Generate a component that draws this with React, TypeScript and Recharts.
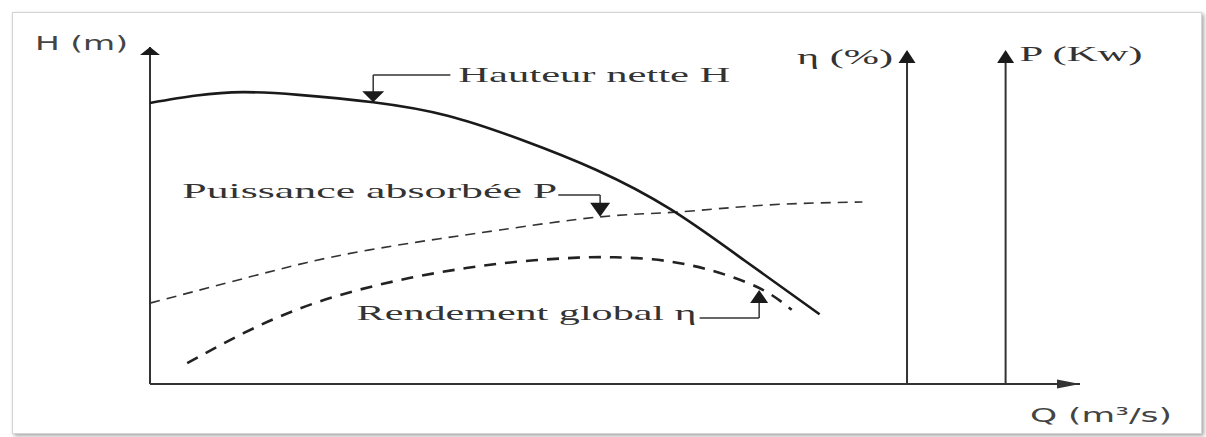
import { LineChart, Line, XAxis, YAxis, ReferenceLine, ReferenceDot } from 'recharts';

// Q values are on a 0..100 scale, curves on a 0..100 scale (no units shown)
const headFlow = [0, 5, 10, 16, 24, 32, 40, 48, 56, 64, 72];
const headValues = [83.4, 85.6, 86.6, 85.8, 83.6, 79.6, 72.4, 63.5, 51.8, 36.5, 20.7];

const powerFlow = [0, 10.75, 19.6, 28.7, 37.6, 48.4, 56.5, 66.3, 76.6];
const powerValues = [24, 31.8, 37.7, 42.1, 45.7, 49.6, 51, 53.1, 54];

const effFlow = [4, 10, 16, 22, 28, 34, 40, 46, 50, 54, 58, 62, 66, 69];
const effValues = [6.2, 15, 22.3, 27.6, 31.5, 34.4, 36.4, 37.5, 37.6, 37, 35.3, 32.3, 27.8, 22];

const axisLabels = ['H (m)', 'Q (m³/s)', 'η (%)', 'P (Kw)'];
const curveLabels = ['Hauteur nette H', 'Puissance absorbée P', 'Rendement global η'];

const toPoints = (xs: number[], ys: number[]) => xs.map((q, i) => ({ q, v: ys[i] }));
const headData = toPoints(headFlow, headValues);
const powerData = toPoints(powerFlow, powerValues);
const effData = toPoints(effFlow, effValues);

const INK = '#1a1a1a';
const SERIF = "'Liberation Serif', 'DejaVu Serif', serif";
const SANS = "'DejaVu Sans', 'Liberation Sans', sans-serif";

const upHead = (w: number, h: number) => (p: any) => (
  <path d={`M${p.cx},${p.cy} l${-w / 2},${h} h${w} z`} fill={INK} />
);
const downHead = (w: number, h: number) => (p: any) => (
  <path d={`M${p.cx},${p.cy} l${-w / 2},${-h} h${w} z`} fill={INK} />
);
const rightHead = (p: any) => (
  <path d={`M${p.cx},${p.cy} l-23,-4.5 v9 z`} fill="#333" />
);

const textShape = (
  text: string, dx: number, dy: number, anchor: 'start' | 'end',
  width: number, family: string, size: number, color: string
) => (p: any) => (
  <text
    x={p.cx + dx}
    y={p.cy + dy}
    textAnchor={anchor}
    textLength={width}
    lengthAdjust="spacingAndGlyphs"
    style={{ fontFamily: family, fontSize: size }}
    fill={color}
  >
    {text}
  </text>
);

export default function App() {
  return (
    <div style={{ position: 'absolute', left: 0, top: 0, width: 1206, height: 437, background: '#fff' }}>
      <div
        style={{
          position: 'absolute', left: 12, top: 12, width: 1188, height: 420,
          border: '1px solid #d4d4d4', boxShadow: '2px 2px 4px rgba(0,0,0,0.35)', background: '#fff'
        }}
      />
      <div style={{ position: 'absolute', left: 0, top: 0 }}>
        <LineChart width={1206} height={437} margin={{ top: 47, right: 126, bottom: 53, left: 150 }}>
          <XAxis type="number" dataKey="q" domain={[0, 100]} hide />
          <YAxis type="number" domain={[0, 100]} hide />

          {/* axes */}
          <ReferenceLine y={0} stroke="#333" strokeWidth={2} ifOverflow="visible" />
          <ReferenceLine x={0} stroke="#333" strokeWidth={2} ifOverflow="visible" />
          <ReferenceLine segment={[{ x: 81.4, y: 0 }, { x: 81.4, y: 97 }]} stroke="#333" strokeWidth={2} ifOverflow="visible" />
          <ReferenceLine segment={[{ x: 92, y: 0 }, { x: 92, y: 97 }]} stroke="#333" strokeWidth={2} ifOverflow="visible" />
          <ReferenceDot x={100} y={0} ifOverflow="visible" shape={rightHead} />
          <ReferenceDot x={0} y={100} ifOverflow="visible" shape={upHead(20, 8)} />
          <ReferenceDot x={81.4} y={99.1} ifOverflow="visible" shape={upHead(17, 13)} />
          <ReferenceDot x={92} y={99.1} ifOverflow="visible" shape={upHead(17, 13)} />

          {/* axis titles */}
          <ReferenceDot x={0} y={100} ifOverflow="visible" shape={textShape(axisLabels[0], -22, 3, 'end', 93, SANS, 20, '#444')} />
          <ReferenceDot x={100} y={0} ifOverflow="visible" shape={textShape(axisLabels[1], -50, 38, 'start', 142, SANS, 20, '#444')} />
          <ReferenceDot x={81.4} y={99.1} ifOverflow="visible" shape={textShape(axisLabels[2], -14, 14, 'end', 96, SERIF, 21, '#333')} />
          <ReferenceDot x={92} y={99.1} ifOverflow="visible" shape={textShape(axisLabels[3], 14, 11, 'start', 123, SERIF, 21, '#333')} />

          {/* curves */}
          <Line data={powerData} dataKey="v" type="natural" stroke="#333" strokeWidth={1.6} strokeDasharray="10 7" dot={false} isAnimationActive={false} />
          <Line data={effData} dataKey="v" type="natural" stroke="#222" strokeWidth={2.6} strokeDasharray="12 9" dot={false} isAnimationActive={false} />
          <Line data={headData} dataKey="v" type="natural" stroke={INK} strokeWidth={2.6} dot={false} isAnimationActive={false} />

          {/* annotation: Hauteur nette H */}
          <ReferenceLine segment={[{ x: 24, y: 91.7 }, { x: 32.3, y: 91.7 }]} stroke="#333" strokeWidth={1.5} ifOverflow="visible" />
          <ReferenceLine segment={[{ x: 24, y: 91.7 }, { x: 24, y: 86 }]} stroke="#333" strokeWidth={1.5} ifOverflow="visible" />
          <ReferenceDot x={24} y={83.6} ifOverflow="visible" shape={downHead(22, 11)} />
          <ReferenceDot x={32.3} y={91.7} ifOverflow="visible" shape={textShape(curveLabels[0], 8, 7, 'start', 272, SERIF, 21, '#333')} />

          {/* annotation: Puissance absorbée P */}
          <ReferenceLine segment={[{ x: 43.9, y: 56.1 }, { x: 48.4, y: 56.1 }]} stroke="#333" strokeWidth={1.5} ifOverflow="visible" />
          <ReferenceLine segment={[{ x: 48.4, y: 56.1 }, { x: 48.4, y: 52 }]} stroke="#333" strokeWidth={1.5} ifOverflow="visible" />
          <ReferenceDot x={48.4} y={49.6} ifOverflow="visible" shape={downHead(20, 14)} />
          <ReferenceDot x={43.9} y={56.1} ifOverflow="visible" shape={textShape(curveLabels[1], -1, 3, 'end', 375, SERIF, 21, '#333')} />

          {/* annotation: Rendement global η */}
          <ReferenceLine segment={[{ x: 59.1, y: 19.6 }, { x: 65.5, y: 19.6 }]} stroke="#333" strokeWidth={1.5} ifOverflow="visible" />
          <ReferenceLine segment={[{ x: 65.5, y: 19.6 }, { x: 65.5, y: 25 }]} stroke="#333" strokeWidth={1.5} ifOverflow="visible" />
          <ReferenceDot x={65.5} y={27.9} ifOverflow="visible" shape={upHead(18, 13)} />
          <ReferenceDot x={59.1} y={19.6} ifOverflow="visible" shape={textShape(curveLabels[2], -3, 2, 'end', 340, SERIF, 21, '#333')} />
        </LineChart>
      </div>
    </div>
  );
}
